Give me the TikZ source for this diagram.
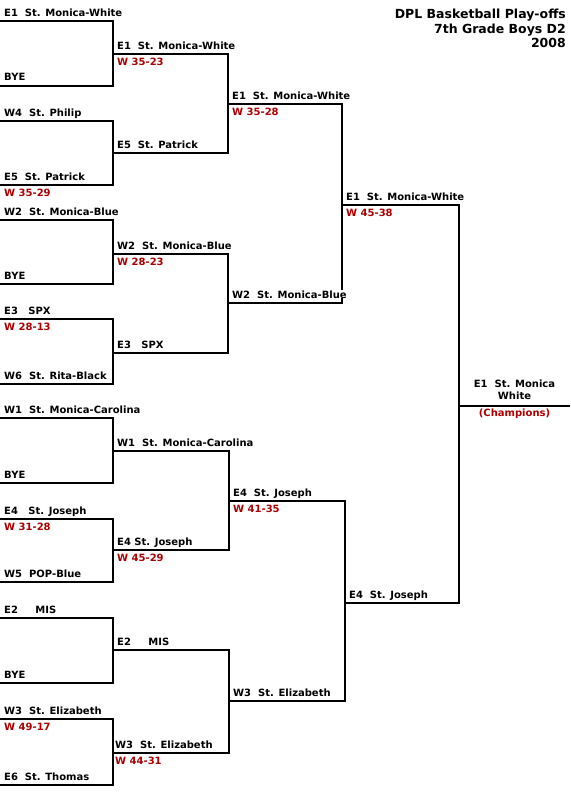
\documentclass[tikz,border=0pt]{standalone}
\usepackage{fontspec}
\setmainfont{DejaVu Sans}
\definecolor{winred}{RGB}{170,0,0}

\begin{document}
\begin{tikzpicture}[
x=1pt, y=-1pt,
team/.style={anchor=base west, inner sep=0pt, fill=white, shift={(4,-4.5)}, font=\bfseries\fontsize{10}{12}\selectfont},
score/.style={team, text=winred, shift={(0,16.5)}},
champ/.style={anchor=south, align=center, inner sep=0pt, font=\bfseries\fontsize{10}{12}\selectfont},
bracket/.style={line width=2pt}
]
\useasboundingbox (0,0) rectangle (570,800);

% round 1 slots
\coordinate (s1) at (0,21.5);
\coordinate (s2) at (0,85.5);
\coordinate (s3) at (0,120.5);
\coordinate (s4) at (0,184.5);
\coordinate (s5) at (0,219.5);
\coordinate (s6) at (0,283.5);
\coordinate (s7) at (0,318.5);
\coordinate (s8) at (0,383.5);
\coordinate (s9) at (0,417.5);
\coordinate (s10) at (0,482.5);
\coordinate (s11) at (0,518.5);
\coordinate (s12) at (0,581.5);
\coordinate (s13) at (0,617.5);
\coordinate (s14) at (0,682.5);
\coordinate (s15) at (0,718.5);
\coordinate (s16) at (0,784.5);
% round 2
\coordinate (q1) at (113,54);
\coordinate (q2) at (113,152.5);
\coordinate (q3) at (113,253.5);
\coordinate (q4) at (113,352.5);
\coordinate (q5) at (113,450.5);
\coordinate (q6) at (113,549.5);
\coordinate (q7) at (113,649.5);
\coordinate (q8) at (113,752.5);
% round 3
\coordinate (h1) at (228,103.5);
\coordinate (h2) at (228,302.5);
\coordinate (h3) at (229,500.5);
\coordinate (h4) at (229,700.5);
% round 4 and final
\coordinate (f1) at (342,204.5);
\coordinate (f2) at (345,602.5);
\coordinate (ch) at (459,405.5);
\coordinate (end) at (570,405.5);

\draw[bracket] (s1) -| (q1) |- (s2);
\draw[bracket] (s3) -| (q2) |- (s4);
\draw[bracket] (s5) -| (q3) |- (s6);
\draw[bracket] (s7) -| (q4) |- (s8);
\draw[bracket] (s9) -| (q5) |- (s10);
\draw[bracket] (s11) -| (q6) |- (s12);
\draw[bracket] (s13) -| (q7) |- (s14);
\draw[bracket] (s15) -| (q8) |- (s16);

\draw[bracket] (q1) -| (h1) |- (q2);
\draw[bracket] (q3) -| (h2) |- (q4);
\draw[bracket] (q5) -| (h3) |- (q6);
\draw[bracket] (q7) -| (h4) |- (q8);

\draw[bracket] (h1) -| (f1) |- (h2);
\draw[bracket] (h3) -| (f2) |- (h4);

\draw[bracket] (f1) -| (ch) |- (f2);
\draw[bracket] (ch) -- (end);

\node[anchor=north east, align=right, inner sep=0pt, font=\bfseries\fontsize{12.5}{14.5}\selectfont] (title) at (566,9) {DPL Basketball Play-offs\\7th Grade Boys D2\\2008};

\node[team] (t1) at (s1) {E1~~St. Monica-White};
\node[team] (t2) at (s2) {BYE};
\node[team] (t3) at (s3) {W4~~St. Philip};
\node[team] (t4) at (s4) {E5~~St. Patrick};
\node[score] (w4) at (s4) {W 35-29};
\node[team] (t5) at (s5) {W2~~St. Monica-Blue};
\node[team] (t6) at (s6) {BYE};
\node[team] (t7) at (s7) {E3~~~SPX};
\node[score] (w7) at (s7) {W 28-13};
\node[team] (t8) at (s8) {W6~~St. Rita-Black};
\node[team] (t9) at (s9) {W1~~St. Monica-Carolina};
\node[team] (t10) at (s10) {BYE};
\node[team] (t11) at (s11) {E4~~~St. Joseph};
\node[score] (w11) at (s11) {W 31-28};
\node[team] (t12) at (s12) {W5~~POP-Blue};
\node[team] (t13) at (s13) {E2~~~~~MIS};
\node[team] (t14) at (s14) {BYE};
\node[team] (t15) at (s15) {W3~~St. Elizabeth};
\node[score] (w15) at (s15) {W 49-17};
\node[team] (t16) at (s16) {E6~~St. Thomas};

\node[team] (u1) at (q1) {E1~~St. Monica-White};
\node[score] (v1) at (q1) {W 35-23};
\node[team] (u2) at (q2) {E5~~St. Patrick};
\node[team] (u3) at (q3) {W2~~St. Monica-Blue};
\node[score] (v3) at (q3) {W 28-23};
\node[team] (u4) at (q4) {E3~~~SPX};
\node[team] (u5) at (q5) {W1~~St. Monica-Carolina};
\node[team] (u6) at (q6) {E4 St. Joseph};
\node[score] (v6) at (q6) {W 45-29};
\node[team] (u7) at (q7) {E2~~~~~MIS};
\node[team, shift={(-2,0)}] (u8) at (q8) {W3~~St. Elizabeth};
\node[score, shift={(-2,0)}] (v8) at (q8) {W 44-31};

\node[team] (r1) at (h1) {E1~~St. Monica-White};
\node[score] (x1) at (h1) {W 35-28};
\node[team] (r2) at (h2) {W2~~St. Monica-Blue};
\node[team] (r3) at (h3) {E4~~St. Joseph};
\node[score] (x3) at (h3) {W 41-35};
\node[team] (r4) at (h4) {W3~~St. Elizabeth};

\node[team] (g1) at (f1) {E1~~St. Monica-White};
\node[score] (y1) at (f1) {W 45-38};
\node[team] (g2) at (f2) {E4~~St. Joseph};

\path (ch) -- (end) node[midway, champ, shift={(0,-5.5)}] (winner) {E1~~St. Monica\\White};
\path (ch) -- (end) node[midway, champ, anchor=base, text=winred, shift={(0,10.5)}] (cup) {(Champions)};

\end{tikzpicture}
\end{document}
